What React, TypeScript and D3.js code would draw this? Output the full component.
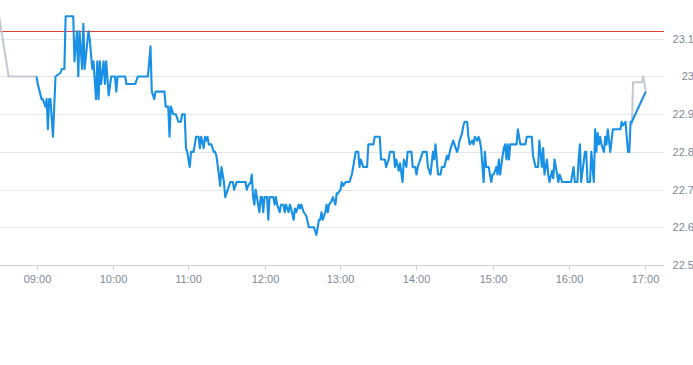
import React from 'react';
import * as d3 from 'd3';

const W = 693;
const H = 365;

// previous close reference line
const prevClose = 23.12;

const yTicks = [22.5, 22.6, 22.7, 22.8, 22.9, 23.0, 23.1];
const xTickLabels = ['09:00', '10:00', '11:00', '12:00', '13:00', '14:00', '15:00', '16:00', '17:00'];

// pre-market (gray)
const preTimes = ['08:30', '08:38', '09:00'];
const prePrices = [23.17, 23.0, 23.0];

// regular session (blue)
const times = [
  '09:00', '09:01', '09:04', '09:05', '09:07', '09:08', '09:09', '09:10', '09:11', '09:13',
  '09:15', '09:19', '09:20', '09:22', '09:23', '09:29', '09:30', '09:32', '09:33', '09:34',
  '09:36', '09:37', '09:38', '09:41', '09:42', '09:44', '09:45', '09:47', '09:48', '09:49',
  '09:50', '09:51', '09:53', '09:54', '09:55', '09:57', '09:59', '10:02', '10:03', '10:04',
  '10:10', '10:11', '10:18', '10:20', '10:28', '10:30', '10:31', '10:33', '10:34', '10:41',
  '10:42', '10:44', '10:45', '10:46', '10:47', '10:48', '10:50', '10:51', '10:52', '10:54',
  '10:55', '10:57', '10:58', '10:59', '11:01', '11:02', '11:04', '11:06', '11:08', '11:09',
  '11:10', '11:12', '11:13', '11:14', '11:15', '11:16', '11:18', '11:20', '11:21', '11:22',
  '11:24', '11:25', '11:26', '11:28', '11:29', '11:31', '11:33', '11:35', '11:36', '11:38',
  '11:45', '11:46', '11:47', '11:49', '11:50', '11:51', '11:52', '11:53', '11:54', '11:56',
  '11:57', '11:58', '11:59', '12:00', '12:02', '12:03', '12:04', '12:07', '12:08', '12:09',
  '12:10', '12:12', '12:13', '12:15', '12:16', '12:17', '12:19', '12:20', '12:21', '12:23',
  '12:24', '12:25', '12:27', '12:28', '12:29', '12:31', '12:33', '12:35', '12:39', '12:41',
  '12:42', '12:43', '12:44', '12:45', '12:46', '12:48', '12:49', '12:50', '12:51', '12:53',
  '12:54', '12:56', '12:57', '12:58', '13:00', '13:01', '13:02', '13:04', '13:07', '13:09',
  '13:10', '13:12', '13:14', '13:15', '13:16', '13:18', '13:21', '13:22', '13:26', '13:27',
  '13:31', '13:32', '13:35', '13:36', '13:38', '13:39', '13:42', '13:43', '13:44', '13:46',
  '13:47', '13:49', '13:50', '13:52', '13:53', '13:56', '13:57', '13:59', '14:00', '14:01',
  '14:03', '14:05', '14:08', '14:09', '14:11', '14:13', '14:14', '14:15', '14:17', '14:19',
  '14:20', '14:22', '14:24', '14:25', '14:27', '14:29', '14:30', '14:32', '14:33', '14:34',
  '14:36', '14:37', '14:38', '14:40', '14:41', '14:42', '14:44', '14:45', '14:46', '14:48',
  '14:49', '14:50', '14:51', '14:53', '14:54', '14:55', '14:57', '14:59', '15:00', '15:01',
  '15:03', '15:04', '15:05', '15:06', '15:08', '15:09', '15:10', '15:11', '15:12', '15:13',
  '15:14', '15:19', '15:20', '15:22', '15:26', '15:27', '15:31', '15:32', '15:34', '15:36',
  '15:37', '15:39', '15:40', '15:41', '15:43', '15:44', '15:45', '15:47', '15:48', '15:49',
  '15:51', '15:52', '15:53', '15:55', '16:02', '16:04', '16:05', '16:07', '16:08', '16:09',
  '16:10', '16:13', '16:14', '16:15', '16:17', '16:18', '16:20', '16:21', '16:22', '16:23',
  '16:24', '16:25', '16:26', '16:28', '16:29', '16:30', '16:31', '16:33', '16:34', '16:35',
  '16:41', '16:42', '16:43', '16:45', '16:46', '16:47', '16:48', '16:49', '16:50', '17:01',
];
const prices = [
  23.0, 22.98, 22.94, 22.94, 22.92, 22.94, 22.86, 22.94, 22.94, 22.84,
  23.0, 23.01, 23.02, 23.02, 23.16, 23.16, 23.04, 23.12, 23.0, 23.12,
  23.02, 23.14, 23.02, 23.12, 23.1, 23.02, 23.04, 22.94, 23.04, 22.94,
  23.04, 22.98, 23.04, 22.98, 23.04, 22.95, 23.0, 23.0, 22.96, 23.0,
  23.0, 22.98, 22.98, 23.0, 23.0, 23.08, 22.96, 22.94, 22.96, 22.96,
  22.92, 22.92, 22.84, 22.92, 22.91, 22.9, 22.9, 22.89, 22.88, 22.88,
  22.9, 22.9, 22.81, 22.8, 22.76, 22.8, 22.8, 22.84, 22.84, 22.81,
  22.84, 22.81, 22.84, 22.83, 22.84, 22.82, 22.82, 22.8, 22.8, 22.79,
  22.74, 22.71, 22.76, 22.72, 22.68, 22.7, 22.72, 22.72, 22.7, 22.72,
  22.72, 22.7, 22.71, 22.72, 22.74, 22.68, 22.66, 22.7, 22.68, 22.64,
  22.68, 22.68, 22.64, 22.68, 22.68, 22.62, 22.68, 22.68, 22.66, 22.68,
  22.66, 22.64, 22.66, 22.66, 22.64, 22.66, 22.64, 22.66, 22.65, 22.62,
  22.65, 22.64, 22.66, 22.65, 22.66, 22.64, 22.63, 22.6, 22.6, 22.58,
  22.6, 22.62, 22.62, 22.64, 22.62, 22.64, 22.66, 22.64, 22.66, 22.67,
  22.68, 22.66, 22.69, 22.69, 22.7, 22.72, 22.71, 22.72, 22.72, 22.74,
  22.76, 22.8, 22.8, 22.76, 22.78, 22.76, 22.76, 22.82, 22.82, 22.84,
  22.84, 22.78, 22.78, 22.76, 22.78, 22.8, 22.8, 22.76, 22.78, 22.75,
  22.77, 22.72, 22.78, 22.76, 22.8, 22.8, 22.76, 22.76, 22.74, 22.76,
  22.78, 22.8, 22.8, 22.76, 22.74, 22.8, 22.78, 22.82, 22.74, 22.74,
  22.76, 22.76, 22.79, 22.78, 22.81, 22.83, 22.82, 22.8, 22.81, 22.83,
  22.85, 22.87, 22.88, 22.88, 22.84, 22.82, 22.83, 22.82, 22.84, 22.83,
  22.84, 22.83, 22.81, 22.72, 22.8, 22.76, 22.76, 22.72, 22.74, 22.74,
  22.76, 22.74, 22.78, 22.74, 22.79, 22.81, 22.82, 22.78, 22.82, 22.78,
  22.82, 22.82, 22.86, 22.82, 22.82, 22.84, 22.84, 22.79, 22.76, 22.76,
  22.83, 22.76, 22.81, 22.74, 22.78, 22.74, 22.72, 22.75, 22.73, 22.78,
  22.74, 22.72, 22.74, 22.72, 22.72, 22.76, 22.72, 22.72, 22.78, 22.82,
  22.72, 22.8, 22.8, 22.72, 22.72, 22.8, 22.72, 22.86, 22.8, 22.85,
  22.82, 22.84, 22.82, 22.8, 22.84, 22.82, 22.86, 22.8, 22.83, 22.86,
  22.86, 22.88, 22.87, 22.88, 22.84, 22.8, 22.8, 22.88, 22.88, 22.96,
];

// after-hours (gray)
const postTimes = ['16:50', '16:51', '16:58', '16:59', '17:00', '17:01'];
const postPrices = [22.87, 22.985, 22.985, 23.0, 22.98, 22.96];

const parseT = (s: string) => {
  const [h, m] = s.split(':').map(Number);
  return new Date(2024, 0, 2, h, m);
};

export default function App() {
  const plotRight = 664;
  const axisY = 265;

  const x = d3.scaleTime()
    .domain([parseT('08:30'), parseT('17:15')])
    .range([-1.5, 663.5]);
  const y = d3.scaleLinear().domain([22.5, 23.2]).range([axisY, axisY - 7 * 37.7]);

  const line = d3.line<[string, number]>()
    .x(d => x(parseT(d[0])))
    .y(d => y(d[1]));

  const pre = preTimes.map((t, i) => [t, prePrices[i]] as [string, number]);
  const main = times.map((t, i) => [t, prices[i]] as [string, number]);
  const post = postTimes.map((t, i) => [t, postPrices[i]] as [string, number]);

  const font = '"Liberation Sans", Arial, sans-serif';
  const labelColor = '#7d8898';

  return (
    <svg width={W} height={H} style={{ position: 'absolute', left: 0, top: 0, background: '#fff' }}>
      <defs>
        <clipPath id="plot">
          <rect x={0} y={0} width={plotRight} height={axisY} />
        </clipPath>
      </defs>

      {yTicks.filter(v => v > 22.5).map(v => (
        <line key={v} x1={0} x2={plotRight} y1={Math.round(y(v)) + 0.5} y2={Math.round(y(v)) + 0.5}
          stroke="#e3e6ea" strokeWidth={1} />
      ))}
      <line x1={0} x2={plotRight} y1={axisY + 0.5} y2={axisY + 0.5} stroke="#cbd1d9" strokeWidth={1} />

      {xTickLabels.map(t => {
        const px = Math.round(x(parseT(t))) + 0.5;
        return (
          <g key={t}>
            <line x1={px} x2={px} y1={axisY} y2={axisY + 5} stroke="#cbd1d9" strokeWidth={1} />
            <text x={px} y={280} textAnchor="middle" dominantBaseline="middle"
              fontFamily={font} fontSize={11} fill={labelColor}>{t}</text>
          </g>
        );
      })}

      {yTicks.map(v => (
        <text key={v} x={694} y={y(v) + 1} textAnchor="end" dominantBaseline="middle"
          fontFamily={font} fontSize={11} fill={labelColor}>{d3.format('~g')(v)}</text>
      ))}

      {/* previous close */}
      <rect x={0} y={Math.round(y(prevClose))} width={plotRight} height={1} fill="rgb(224,62,54)" />

      <g clipPath="url(#plot)">
        <path d={line(pre) || ''} fill="none" stroke="#c3c9d1" strokeWidth={2} strokeLinejoin="round" />
        <path d={line(post) || ''} fill="none" stroke="#c3c9d1" strokeWidth={2} strokeLinejoin="round" />
        <path d={line(main) || ''} fill="none" stroke="#1890e5" strokeWidth={2.1} strokeLinejoin="round" />
      </g>
    </svg>
  );
}
